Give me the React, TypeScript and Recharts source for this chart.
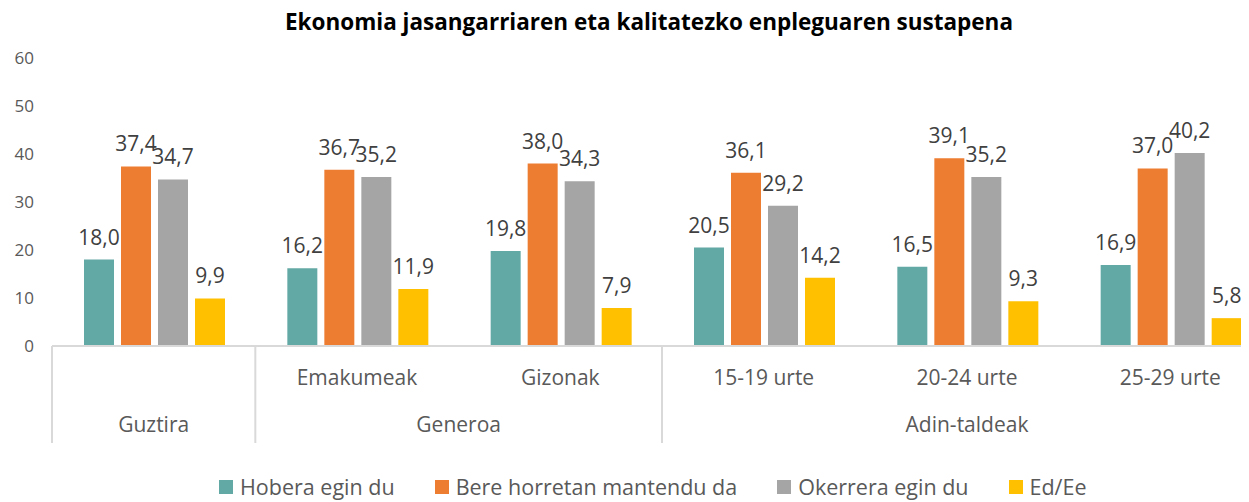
import { BarChart, Bar, XAxis, YAxis, LabelList, Legend } from "recharts";

const categories = ["", "Emakumeak", "Gizonak", "15-19 urte", "20-24 urte", "25-29 urte"];
const groups = [
  { label: "Guztira", start: 0, size: 1 },
  { label: "Generoa", start: 1, size: 2 },
  { label: "Adin-taldeak", start: 3, size: 3 },
];

const hobera = [18.0, 16.2, 19.8, 20.5, 16.5, 16.9];
const bere = [37.4, 36.7, 38.0, 36.1, 39.1, 37.0];
const okerrera = [34.7, 35.2, 34.3, 29.2, 35.2, 40.2];
const edEe = [9.9, 11.9, 7.9, 14.2, 9.3, 5.8];

const yTicks = [0, 10, 20, 30, 40, 50, 60];

const series = [
  { key: "hobera", name: "Hobera egin du", color: "#62A8A5", values: hobera },
  { key: "bere", name: "Bere horretan mantendu da", color: "#ED7D31", values: bere },
  { key: "okerrera", name: "Okerrera egin du", color: "#A5A5A5", values: okerrera },
  { key: "ed", name: "Ed/Ee", color: "#FFC000", values: edEe },
];

const data = categories.map((name, i) => {
  const row: Record<string, string | number> = { name };
  series.forEach((s) => (row[s.key] = s.values[i]));
  return row;
});

const FONT = "'Open Sans', sans-serif";
const TEXT = "#595959";

// layout
const CHART_W = 1272;
const CHART_H = 502;
const Y_AXIS_W = 52;
const MARGIN = { top: 58, right: 0, left: 0, bottom: 0 };
const PLOT_W = CHART_W - MARGIN.left - MARGIN.right - Y_AXIS_W;
const BW = PLOT_W / categories.length;
const AXIS_Y = 346;

const fmt = (v: unknown) => Number(v).toFixed(1).replace(".", ",");

function MultiTick(props: any) {
  const { x, index, payload } = props;
  const group = groups.find((g) => g.start === index);
  const left = x - BW / 2;
  return (
    <g>
      <text
        x={x}
        y={AXIS_Y + 33}
        textAnchor="middle"
        dominantBaseline="middle"
        fill={TEXT}
        fontSize={21}
        fontFamily={FONT}
      >
        {payload.value}
      </text>
      {group && (
        <>
          <line x1={left} x2={left} y1={AXIS_Y} y2={AXIS_Y + 97} stroke="#d9d9d9" strokeWidth={2} />
          <text
            x={left + (group.size * BW) / 2}
            y={AXIS_Y + 80}
            textAnchor="middle"
            dominantBaseline="middle"
            fill={TEXT}
            fontSize={21}
            fontFamily={FONT}
          >
            {group.label}
          </text>
        </>
      )}
    </g>
  );
}

function LegendContent() {
  return (
    <div style={{ display: "flex", gap: 40, fontFamily: FONT, fontSize: 21.5, color: TEXT, whiteSpace: "nowrap" }}>
      {series.map((s) => (
        <div key={s.key} style={{ display: "flex", alignItems: "center", gap: 7 }}>
          <span style={{ width: 14, height: 14, background: s.color, display: "inline-block" }} />
          <span>{s.name}</span>
        </div>
      ))}
    </div>
  );
}

export default function App() {
  return (
    <div
      style={{
        position: "relative",
        margin: "-8px 0 0 -8px",
        width: 1249,
        height: 502,
        overflow: "hidden",
        background: "#fff",
      }}
    >
      <div
        style={{
          position: "absolute",
          top: 6,
          left: 0,
          width: 1298,
          textAlign: "center",
          fontFamily: FONT,
          fontWeight: 700,
          fontSize: 22.5,
          color: "#000",
          zIndex: 1,
        }}
      >
        Ekonomia jasangarriaren eta kalitatezko enpleguaren sustapena
      </div>
      <BarChart
        width={CHART_W}
        height={CHART_H}
        data={data}
        margin={MARGIN}
        barCategoryGap={32}
        barGap={7}
      >
        <XAxis
          dataKey="name"
          interval={0}
          height={126}
          axisLine={{ stroke: "#d9d9d9", strokeWidth: 2 }}
          tickLine={false}
          tick={<MultiTick />}
        />
        <YAxis
          width={Y_AXIS_W}
          domain={[0, 60]}
          ticks={yTicks}
          axisLine={false}
          tickLine={false}
          tickMargin={12}
          tick={{ fill: TEXT, fontSize: 17, fontFamily: FONT }}
        />
        <Legend
          verticalAlign="bottom"
          height={30}
          content={<LegendContent />}
          wrapperStyle={{ left: 219, width: "auto" }}
        />
        {series.map((s) => (
          <Bar key={s.key} dataKey={s.key} name={s.name} fill={s.color} isAnimationActive={false}>
            <LabelList
              dataKey={s.key}
              position="top"
              offset={15}
              formatter={fmt}
              fill="#404040"
              fontSize={21}
              fontFamily={FONT}
            />
          </Bar>
        ))}
      </BarChart>
    </div>
  );
}
